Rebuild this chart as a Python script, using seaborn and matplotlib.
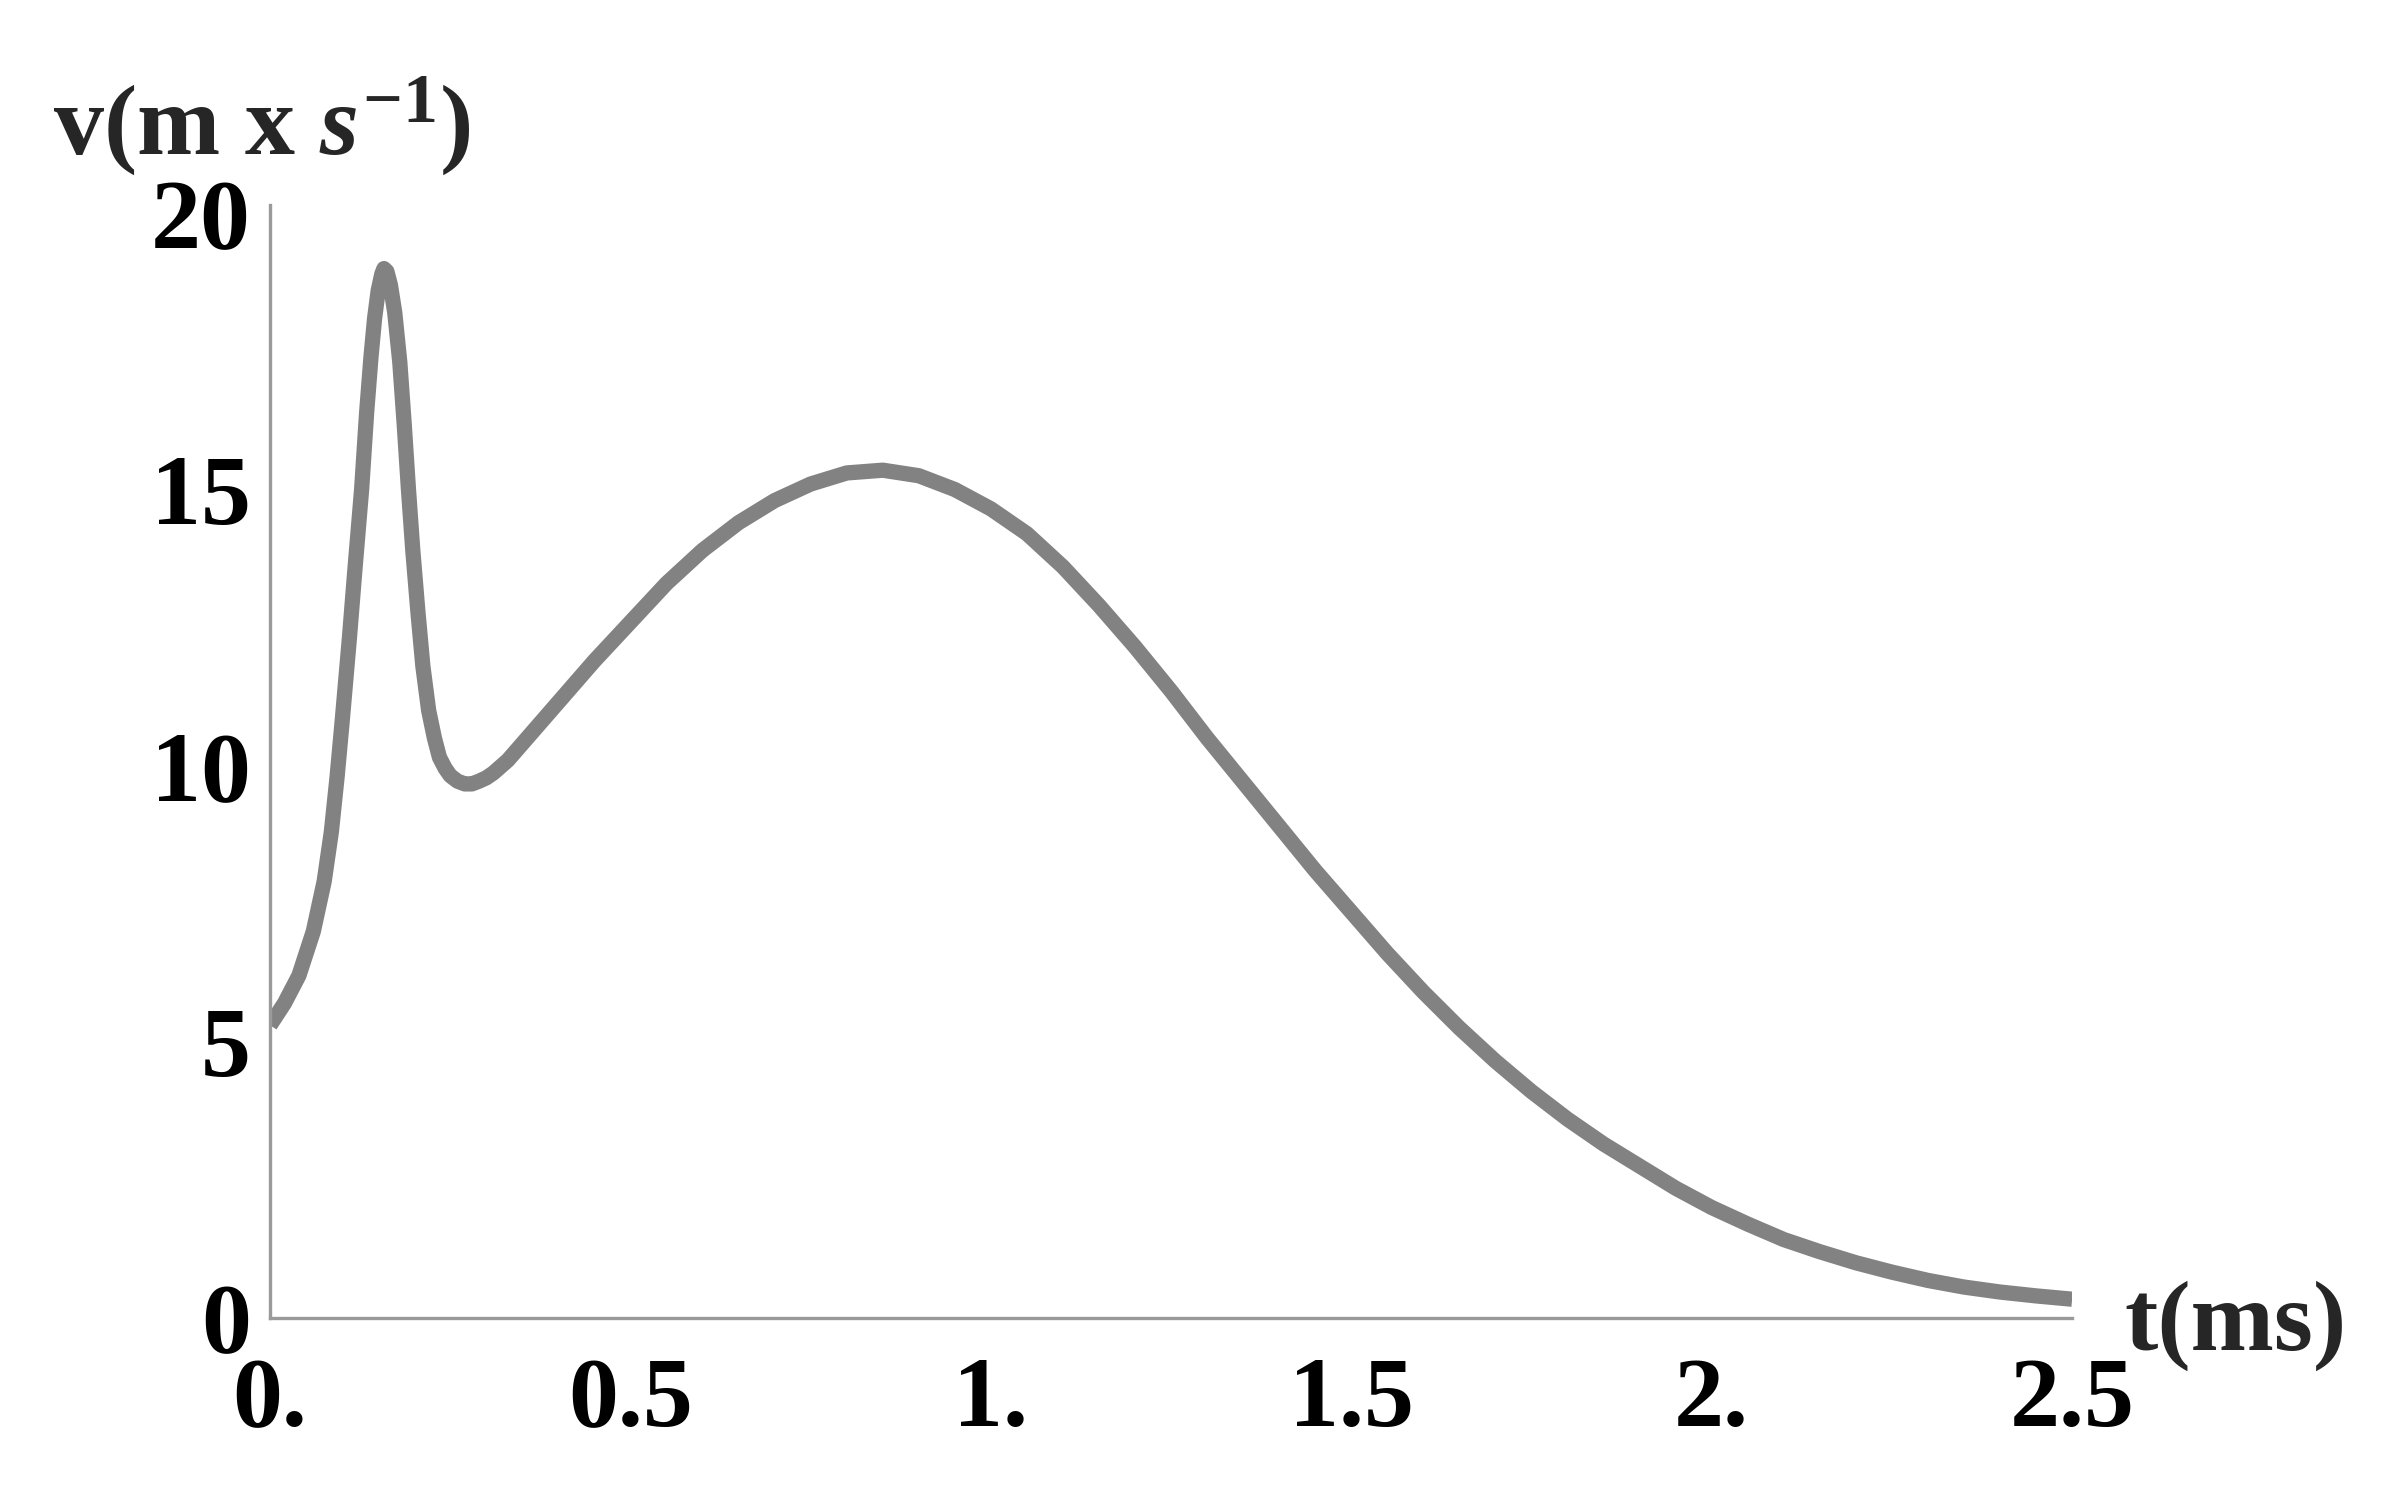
import numpy as np
import pandas as pd
import matplotlib
matplotlib.use("Agg")
import matplotlib.pyplot as plt
import seaborn as sns

# ── Data ───────────────────────────────────────────
t_ms = [0.0, 0.02, 0.04, 0.06, 0.075, 0.085, 0.093, 0.10, 0.11, 0.118,
        0.127, 0.134, 0.14, 0.145, 0.15, 0.155, 0.158, 0.162, 0.167, 0.173,
        0.18, 0.186, 0.192, 0.198, 0.205, 0.212, 0.22, 0.228, 0.235, 0.243,
        0.25, 0.26, 0.27, 0.28, 0.29, 0.30, 0.31, 0.33, 0.36, 0.40,
        0.45, 0.50, 0.55, 0.60, 0.65, 0.70, 0.75, 0.80, 0.85, 0.90,
        0.95, 1.00, 1.05, 1.10, 1.15, 1.20, 1.25, 1.30, 1.35, 1.40,
        1.45, 1.50, 1.55, 1.60, 1.65, 1.70, 1.75, 1.80, 1.85, 1.90,
        1.95, 2.00, 2.05, 2.10, 2.15, 2.20, 2.25, 2.30, 2.35, 2.40,
        2.45, 2.50]
v_ms = [5.3, 5.7, 6.2, 7.0, 7.9, 8.8, 9.8, 10.8, 12.3, 13.6,
        15.0, 16.4, 17.4, 18.1, 18.6, 18.9, 19.0, 18.95, 18.7, 18.2,
        17.3, 16.2, 15.0, 13.9, 12.8, 11.8, 11.0, 10.5, 10.15, 9.95,
        9.82, 9.72, 9.67, 9.67, 9.72, 9.78, 9.87, 10.1, 10.55, 11.15,
        11.9, 12.6, 13.3, 13.9, 14.4, 14.8, 15.1, 15.3, 15.35, 15.25,
        15.0, 14.65, 14.2, 13.6, 12.9, 12.15, 11.35, 10.5, 9.7, 8.9,
        8.1, 7.35, 6.6, 5.9, 5.25, 4.65, 4.1, 3.6, 3.15, 2.75,
        2.35, 2.0, 1.7, 1.42, 1.2, 1.0, 0.83, 0.68, 0.56, 0.47,
        0.4, 0.34]

x_ticks = [0, 0.5, 1.0, 1.5, 2.0, 2.5]
x_labels = ["0.", "0.5", "1.", "1.5", "2.", "2.5"]
y_ticks = [0, 5, 10, 15, 20]
y_labels = ["0", "5", "10", "15", "20"]

df = pd.DataFrame({"t": t_ms, "v": v_ms})

# ── Style ──────────────────────────────────────────
sns.set_style("white")
SERIF = "Liberation Serif"
plt.rcParams["font.family"] = "serif"
plt.rcParams["font.serif"] = [SERIF, "DejaVu Serif"]
plt.rcParams["mathtext.fontset"] = "custom"
plt.rcParams["mathtext.rm"] = "Liberation Serif:bold"
plt.rcParams["mathtext.it"] = "Liberation Serif:italic:bold"
plt.rcParams["mathtext.bf"] = "Liberation Serif:bold"

fig = plt.figure(figsize=(23.9, 15.08), dpi=100)
ax = fig.add_axes([0.113, 0.126, 0.754, 0.738])

sns.lineplot(data=df, x="t", y="v", color="#828282", linewidth=11, ax=ax)
ax.lines[0].set_solid_joinstyle("round")
ax.lines[0].set_solid_capstyle("butt")

ax.set_xlim(0, 2.5)
ax.set_ylim(0, 20.15)
ax.set_xticks(x_ticks)
ax.set_xticklabels(x_labels)
ax.set_yticks(y_ticks)
ax.set_yticklabels(y_labels)
ax.set_yticks(np.arange(0, 21, 1), minor=True)
ax.set_xlabel("")
ax.set_ylabel("")

for s in ["top", "right"]:
    ax.spines[s].set_visible(False)
for s in ["left", "bottom"]:
    ax.spines[s].set_color("#9a9a9a")
    ax.spines[s].set_linewidth(2.4)

ax.tick_params(axis="both", which="major", direction="in", length=11,
               width=1.8, color="#666666", labelsize=72)
ax.tick_params(axis="y", which="minor", direction="in", length=6,
               width=1.4, color="#8a8a8a")
ax.tick_params(axis="x", which="major", pad=28)
ax.tick_params(axis="y", which="major", pad=14)
for lab in ax.get_xticklabels() + ax.get_yticklabels():
    lab.set_fontfamily(SERIF)
    lab.set_fontweight("bold")
    lab.set_color("black")

# axis labels placed like the original (outside the axes corners)
fig.text(0.022, 0.898, r"v(m x $\mathit{s}^{-1}$)", fontsize=72,
         family=SERIF, fontweight="bold", ha="left", va="baseline")
fig.text(0.889, 0.105, "t(ms)", fontsize=72, family=SERIF,
         fontweight="bold", ha="left", va="baseline")

fig.savefig("out.png", dpi=100, facecolor="white")
